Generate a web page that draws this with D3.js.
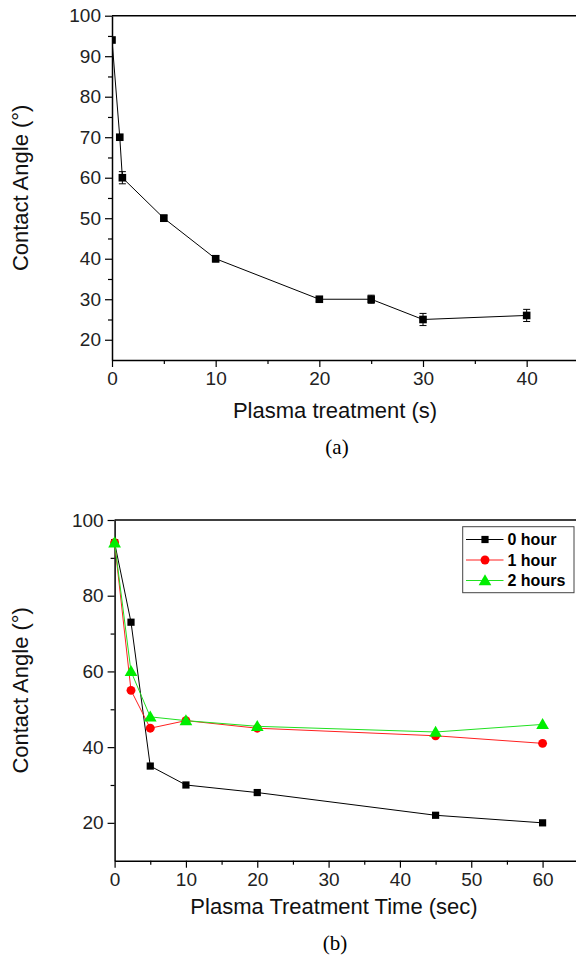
<!DOCTYPE html>
<html><head><meta charset="utf-8">
<script src="https://cdn.jsdelivr.net/npm/d3@7"></script>
<style>body{margin:0;background:#fff}svg{display:block}</style>
</head><body>
<svg id="c" width="576" height="958"></svg>
<script>
// ---- Data (a) ----
const timeA = [0, 0.75, 1, 5, 10, 20, 25, 30, 40];
const angleA = [94, 70, 60, 50, 40, 30, 30, 25, 26];
const errA = [0, 0, 1.5, 0.8, 0.8, 0.5, 1, 1.5, 1.5];
const xTicksA = [0, 10, 20, 30, 40];
const yTicksA = [20, 30, 40, 50, 60, 70, 80, 90, 100];

// ---- Data (b) ----
const timeB = [0, 2.3, 5, 10, 20, 45, 60];
const hour0 = [94, 73, 35, 30, 28, 22, 20];
const hour1 = [94, 55, 45, 47, 45, 43, 41];
const hour2 = [94, 60, 48, 47, 45.5, 44, 46];
const seriesNames = ["0 hour", "1 hour", "2 hours"];
const xTicksB = [0, 10, 20, 30, 40, 50, 60];
const yTicksB = [20, 40, 60, 80, 100];

const svg = d3.select("#c");
const FONT = "'Liberation Sans', Arial, sans-serif";
const TICKCOL = "#222";

function styleAxis(g) {
  g.selectAll("path.domain").attr("stroke", "#000").attr("stroke-width", 1.5);
  g.selectAll(".tick line").attr("stroke", "#000").attr("stroke-width", 1.2);
  g.selectAll(".tick text").attr("font-family", FONT).attr("font-size", 19).attr("fill", TICKCOL);
}

// ================= Chart (a) =================
{
  const left = 112, top = 15.7, bottom = 360, right = 578.5;
  const x = d3.scaleLinear().domain([0, 45]).range([left, right]);
  const y = d3.scaleLinear().domain([15, 100]).range([bottom, top]);
  const g = svg.append("g");

  g.append("g").attr("transform", `translate(0,${bottom})`)
    .call(d3.axisBottom(x).tickValues([5, 15, 25, 35]).tickSize(4).tickFormat(""))
    .call(gg => { gg.select(".domain").remove(); gg.selectAll("line").attr("stroke", "#000").attr("stroke-width", 1.2); });
  g.append("g").attr("transform", `translate(${left},0)`)
    .call(d3.axisLeft(y).tickValues([25, 35, 45, 55, 65, 75, 85, 95]).tickSize(4).tickFormat(""))
    .call(gg => { gg.select(".domain").remove(); gg.selectAll("line").attr("stroke", "#000").attr("stroke-width", 1.2); });

  g.append("g").attr("transform", `translate(0,${bottom})`)
    .call(d3.axisBottom(x).tickValues(xTicksA).tickSize(7).tickSizeOuter(0).tickPadding(5))
    .call(styleAxis);
  g.append("g").attr("transform", `translate(${left},0)`)
    .call(d3.axisLeft(y).tickValues(yTicksA).tickSize(7).tickSizeOuter(0).tickPadding(4))
    .call(styleAxis);
  g.append("line").attr("x1", left).attr("x2", 576).attr("y1", y(100)).attr("y2", y(100))
    .attr("stroke", "#000").attr("stroke-width", 1.5);

  svg.append("clipPath").attr("id", "clipA").append("rect")
    .attr("x", left).attr("y", top - 10).attr("width", 576 - left).attr("height", bottom - top + 10);
  const pg = g.append("g").attr("clip-path", "url(#clipA)");
  const data = timeA.map((t, i) => ({ t, v: angleA[i], e: errA[i] }));
  pg.append("path").datum(data)
    .attr("d", d3.line().x(d => x(d.t)).y(d => y(d.v)))
    .attr("fill", "none").attr("stroke", "#000").attr("stroke-width", 1);
  const eb = pg.selectAll("g.eb").data(data.filter(d => d.e > 0)).join("g");
  eb.append("line").attr("x1", d => x(d.t)).attr("x2", d => x(d.t))
    .attr("y1", d => y(d.v - d.e)).attr("y2", d => y(d.v + d.e)).attr("stroke", "#000");
  eb.append("line").attr("x1", d => x(d.t) - 3.5).attr("x2", d => x(d.t) + 3.5)
    .attr("y1", d => y(d.v - d.e)).attr("y2", d => y(d.v - d.e)).attr("stroke", "#000");
  eb.append("line").attr("x1", d => x(d.t) - 3.5).attr("x2", d => x(d.t) + 3.5)
    .attr("y1", d => y(d.v + d.e)).attr("y2", d => y(d.v + d.e)).attr("stroke", "#000");
  pg.selectAll("rect.m").data(data).join("rect")
    .attr("x", d => x(d.t) - 3.8).attr("y", d => y(d.v) - 3.8)
    .attr("width", 7.6).attr("height", 7.6).attr("fill", "#000");

  svg.append("text").attr("x", 335).attr("y", 410).attr("text-anchor", "middle")
    .attr("dominant-baseline", "central").attr("font-family", FONT).attr("font-size", 22)
    .attr("fill", "#111").text("Plasma treatment (s)");
  svg.append("text").attr("transform", `translate(20,${(top + bottom) / 2}) rotate(-90)`)
    .attr("text-anchor", "middle").attr("dominant-baseline", "central")
    .attr("font-family", FONT).attr("font-size", 22).attr("fill", "#111").text("Contact Angle (°)");
  svg.append("text").attr("x", 337).attr("y", 447).attr("text-anchor", "middle")
    .attr("dominant-baseline", "central").attr("font-family", "'Liberation Serif', 'Times New Roman', serif")
    .attr("font-size", 21).attr("fill", "#000").text("(a)");
}

// ================= Chart (b) =================
{
  const left = 114.6, top = 520, bottom = 860.7;
  const x = d3.scaleLinear().domain([0, 65]).range([left, left + 65 * 7.133]);
  const y = d3.scaleLinear().domain([10, 100]).range([bottom, top]);
  const g = svg.append("g");

  g.append("g").attr("transform", `translate(0,${bottom})`)
    .call(d3.axisBottom(x).tickValues([5, 15, 25, 35, 45, 55]).tickSize(4).tickFormat(""))
    .call(gg => { gg.select(".domain").remove(); gg.selectAll("line").attr("stroke", "#000").attr("stroke-width", 1.2); });
  g.append("g").attr("transform", `translate(${left},0)`)
    .call(d3.axisLeft(y).tickValues([30, 50, 70, 90]).tickSize(4).tickFormat(""))
    .call(gg => { gg.select(".domain").remove(); gg.selectAll("line").attr("stroke", "#000").attr("stroke-width", 1.2); });

  g.append("g").attr("transform", `translate(0,${bottom})`)
    .call(d3.axisBottom(x).tickValues(xTicksB).tickSize(7).tickSizeOuter(0).tickPadding(5))
    .call(styleAxis);
  g.append("g").attr("transform", `translate(${left},0)`)
    .call(d3.axisLeft(y).tickValues(yTicksB).tickSize(7).tickSizeOuter(0).tickPadding(4))
    .call(styleAxis);
  g.append("line").attr("x1", left).attr("x2", 576).attr("y1", y(100)).attr("y2", y(100))
    .attr("stroke", "#000").attr("stroke-width", 1.5);

  const colors = ["#000000", "#ff0000", "#00ee00"];
  const lineColors = ["#000000", "#ff2020", "#20e020"];
  const all = [hour0, hour1, hour2];
  const shapes = [d3.symbolSquare, d3.symbolCircle, d3.symbolTriangle];
  const sizes = [52, 62, 70];

  all.forEach((vals, si) => {
    const data = timeB.map((t, i) => ({ t, v: vals[i] }));
    g.append("path").datum(data)
      .attr("d", d3.line().x(d => x(d.t)).y(d => y(d.v)))
      .attr("fill", "none").attr("stroke", lineColors[si]).attr("stroke-width", 1);
    g.selectAll(null).data(data).join("path")
      .attr("transform", d => `translate(${x(d.t)},${y(d.v) + (si === 2 ? 1 : 0)})`)
      .attr("d", d3.symbol().type(shapes[si]).size(sizes[si]))
      .attr("fill", colors[si]);
  });

  const lg = g.append("g");
  lg.append("rect").attr("x", 462.7).attr("y", 526.7).attr("width", 111.3).attr("height", 66)
    .attr("fill", "#fff").attr("stroke", "#444").attr("stroke-width", 1);
  seriesNames.forEach((name, si) => {
    const cy = 539.5 + si * 20.5;
    lg.append("line").attr("x1", 466).attr("x2", 503.5).attr("y1", cy).attr("y2", cy)
      .attr("stroke", lineColors[si]).attr("stroke-width", 1);
    lg.append("path").attr("transform", `translate(485,${cy + (si === 2 ? 1 : 0)})`)
      .attr("d", d3.symbol().type(shapes[si]).size(sizes[si])).attr("fill", colors[si]);
    lg.append("text").attr("x", 507.5).attr("y", cy).attr("dominant-baseline", "central")
      .attr("font-family", FONT).attr("font-weight", "bold").attr("font-size", 16)
      .attr("fill", "#000").text(name);
  });

  svg.append("text").attr("x", 334).attr("y", 906).attr("text-anchor", "middle")
    .attr("dominant-baseline", "central").attr("font-family", FONT).attr("font-size", 22)
    .attr("fill", "#111").text("Plasma Treatment Time (sec)");
  svg.append("text").attr("transform", `translate(20,${(top + bottom) / 2}) rotate(-90)`)
    .attr("text-anchor", "middle").attr("dominant-baseline", "central")
    .attr("font-family", FONT).attr("font-size", 22).attr("fill", "#111").text("Contact Angle (°)");
  svg.append("text").attr("x", 335).attr("y", 943).attr("text-anchor", "middle")
    .attr("dominant-baseline", "central").attr("font-family", "'Liberation Serif', 'Times New Roman', serif")
    .attr("font-size", 21).attr("fill", "#000").text("(b)");
}
</script>
</body></html>
